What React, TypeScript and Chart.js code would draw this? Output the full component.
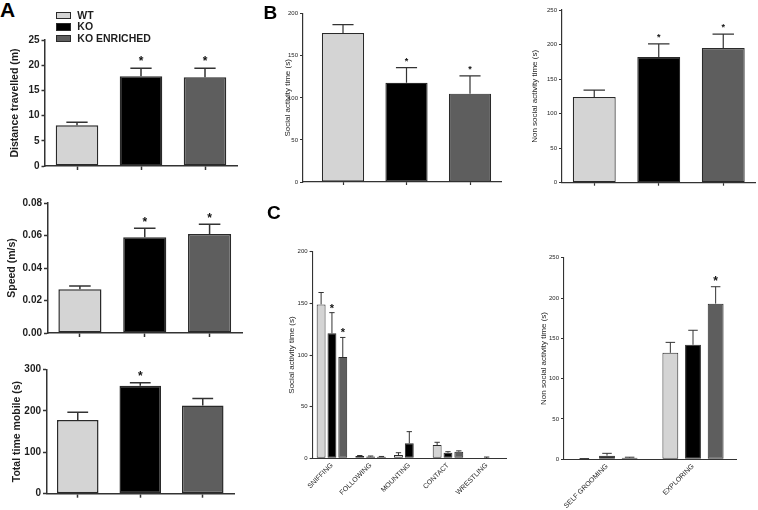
import React, { useEffect, useRef } from "react";
import { Chart, registerables } from "chart.js";

Chart.register(...registerables);

const FONT = "'Liberation Sans', Arial, Helvetica, sans-serif";
const AXIS = "#333333";
const BORDER = "#2a2a2a";
const TEXT = "#1e1e1e";

// ---------- data ----------
const groups = ["WT", "KO", "KO ENRICHED"];
const groupColors = ["#d4d4d4", "#000000", "#5e5e5e"];

const distanceMean = [8.1, 17.8, 17.6];
const distanceSem = [0.6, 1.6, 1.8];
const distanceSig = [false, true, true];
const distanceTicks = [0, 5, 10, 15, 20, 25];
const distanceTickLabels = ["0", "5", "10", "15", "20", "25"];

const speedMean = [0.027, 0.059, 0.061];
const speedSem = [0.002, 0.0055, 0.006];
const speedSig = [false, true, true];
const speedTicks = [0, 0.02, 0.04, 0.06, 0.08];
const speedTickLabels = ["0.00", "0.02", "0.04", "0.06", "0.08"];

const mobileMean = [178, 261, 213];
const mobileSem = [19, 7, 17];
const mobileSig = [false, true, false];
const mobileTicks = [0, 100, 200, 300];
const mobileTickLabels = ["0", "100", "200", "300"];

const socialTimeMean = [177, 118, 105];
const socialTimeSem = [10, 18, 21];
const socialTimeSig = [false, true, true];
const socialTimeTicks = [0, 50, 100, 150, 200];
const socialTimeTickLabels = ["0", "50", "100", "150", "200"];

const nonSocialTimeMean = [124, 182, 195];
const nonSocialTimeSem = [10, 19, 20];
const nonSocialTimeSig = [false, true, true];
const nonSocialTimeTicks = [0, 50, 100, 150, 200, 250];
const nonSocialTimeTickLabels = ["0", "50", "100", "150", "200", "250"];

const socialBehaviours = ["SNIFFING", "FOLLOWING", "MOUNTING", "CONTACT", "WRESTLING"];
const socialWT = [149, 2.2, 3.2, 12.9, 0];
const socialWTSem = [11.5, 0.5, 2.2, 2.6, 0];
const socialKO = [121, 1.7, 14.5, 5.4, 0];
const socialKOSem = [20, 0.5, 11.3, 1.0, 1.2];
const socialKOE = [98, 1.4, 0, 6.4, 0];
const socialKOESem = [19, 0.4, 0, 0.8, 0];
const socialWTSig = [false, false, false, false, false];
const socialKOSig = [true, false, false, false, false];
const socialKOESig = [true, false, false, false, false];

const nonSocialBehaviours = ["SELF GROOMING", "EXPLORING"];
const nonSocialWT = [0.6, 132];
const nonSocialWTSem = [0.3, 13];
const nonSocialKO = [4.5, 142];
const nonSocialKOSem = [2.9, 18];
const nonSocialKOE = [1.8, 193];
const nonSocialKOESem = [0.8, 21];
const nonSocialWTSig = [false, false];
const nonSocialKOSig = [false, false];
const nonSocialKOESig = [false, true];

// ---------- plugin: error bars + asterisks ----------
const errorBarPlugin = {
  id: "errorBars",
  afterDatasetsDraw(chart: any, _args: any, opts: any) {
    const { ctx } = chart;
    const yScale = chart.scales.y;
    chart.data.datasets.forEach((ds: any, di: number) => {
      const meta = chart.getDatasetMeta(di);
      meta.data.forEach((bar: any, i: number) => {
        const { x, y, width } = bar.getProps(["x", "y", "width"], true);
        const v = meta._parsed[i].y;
        const e = ds.errors ? ds.errors[i] : 0;
        const top = yScale.getPixelForValue(v + e);
        ctx.save();
        ctx.strokeStyle = opts.color || AXIS;
        ctx.lineWidth = opts.lineWidth || 1.2;
        if (e > 0) {
          ctx.beginPath();
          ctx.moveTo(x, y);
          ctx.lineTo(x, top);
          ctx.moveTo(x - width * opts.cap, top);
          ctx.lineTo(x + width * opts.cap, top);
          ctx.stroke();
        }
        if (ds.sig && ds.sig[i]) {
          const fs = opts.starSize;
          ctx.fillStyle = "#111";
          ctx.font = `bold ${fs}px ${FONT}`;
          ctx.textAlign = "center";
          ctx.textBaseline = "alphabetic";
          const cy = top - opts.starGap;
          ctx.fillText("*", x, cy + fs * 0.58);
        }
        ctx.restore();
      });
    });
  },
};

// ---------- config builders ----------
function yAxis(p: any) {
  return {
    min: 0,
    max: p.yMax,
    afterBuildTicks: (s: any) => {
      s.ticks = p.yTicks.map((v: number) => ({ value: v }));
    },
    ticks: {
      callback: (_v: any, i: number) => p.yLabels[i],
      font: { family: FONT, size: p.tickSize, weight: p.tickWeight },
      color: TEXT,
      padding: 2,
    },
    grid: {
      drawOnChartArea: false,
      drawTicks: true,
      tickLength: p.yTick,
      tickColor: AXIS,
      tickWidth: p.axisWidth,
    },
    border: { color: AXIS, width: p.axisWidth },
    title: {
      display: true,
      text: p.title,
      font: { family: FONT, size: p.titleSize, weight: p.titleWeight, lineHeight: 1 },
      color: TEXT,
      padding: 0,
    },
    afterFit: (s: any) => {
      s.width = p.yw;
    },
  };
}

function simpleBarConfig(p: any) {
  return {
    type: "bar",
    data: {
      datasets: [
        {
          data: p.mean.map((v: number, i: number) => ({ x: i, y: v })),
          backgroundColor: groupColors,
          borderColor: BORDER,
          borderWidth: p.barBorder,
          borderSkipped: false,
          categoryPercentage: 1,
          barPercentage: 0.665,
          errors: p.sem,
          sig: p.sig,
        },
      ],
    },
    options: {
      responsive: false,
      animation: false,
      devicePixelRatio: 1,
      layout: { padding: { left: p.padL, top: p.padT, right: p.padR, bottom: 0 } },
      plugins: {
        legend: { display: false },
        tooltip: { enabled: false },
        errorBars: {
          lineWidth: p.barBorder,
          cap: 0.25,
          starSize: p.starSize,
          starGap: p.starGap,
        },
      },
      scales: {
        x: {
          type: "linear",
          offset: false,
          min: p.xMin,
          max: p.xMax,
          bounds: "data",
          afterBuildTicks: (s: any) => {
            s.ticks = groups.map((_g, i) => ({ value: i }));
          },
          ticks: { callback: () => "", padding: 0 },
          grid: {
            offset: false,
            drawOnChartArea: false,
            drawTicks: true,
            tickLength: p.xTick,
            tickColor: AXIS,
            tickWidth: p.axisWidth,
          },
          border: { color: AXIS, width: p.axisWidth },
          afterFit: (s: any) => {
            s.height = p.xh;
          },
        },
        y: yAxis(p),
      },
    },
    plugins: [errorBarPlugin],
  };
}

function groupedBarConfig(p: any) {
  const series = [
    { data: p.wt, errors: p.wtSem, sig: p.wtSig },
    { data: p.ko, errors: p.koSem, sig: p.koSig },
    { data: p.koe, errors: p.koeSem, sig: p.koeSig },
  ];
  return {
    type: "bar",
    data: {
      labels: p.labels,
      datasets: series.map((s, i) => ({
        label: groups[i],
        data: s.data,
        errors: s.errors,
        sig: s.sig,
        backgroundColor: groupColors[i],
        borderColor: BORDER,
        borderWidth: p.barBorder,
        borderSkipped: false,
        categoryPercentage: p.catPct,
        barPercentage: p.barPct,
      })),
    },
    options: {
      responsive: false,
      animation: false,
      devicePixelRatio: 1,
      layout: { padding: { left: p.padL, top: p.padT, right: p.padR, bottom: 0 } },
      plugins: {
        legend: { display: false },
        tooltip: { enabled: false },
        errorBars: {
          lineWidth: p.barBorder,
          cap: 0.3,
          starSize: p.starSize,
          starGap: p.starGap,
        },
      },
      scales: {
        x: {
          type: "category",
          ticks: {
            minRotation: 45,
            maxRotation: 45,
            autoSkip: false,
            padding: 3,
            font: { family: FONT, size: 7 },
            color: TEXT,
          },
          grid: { display: false, drawTicks: false },
          border: { color: AXIS, width: p.axisWidth },
          afterFit: (s: any) => {
            s.height = p.xh;
          },
        },
        y: yAxis(p),
      },
    },
    plugins: [errorBarPlugin],
  };
}

// ---------- panels ----------
const panelA1 = {
  box: { left: 0, top: 28, width: 245, height: 150 },
  config: simpleBarConfig({
    mean: distanceMean, sem: distanceSem, sig: distanceSig,
    yMax: 25, yTicks: distanceTicks, yLabels: distanceTickLabels,
    title: "Distance travelled (m)", titleSize: 10.5, titleWeight: "bold",
    tickSize: 10, tickWeight: "bold", yTick: 3.5, xTick: 4, axisWidth: 1.5, barBorder: 1.5,
    padL: 9.75, padT: 12, padR: 8, yw: 35.25, xh: 12,
    xMin: -0.5, xMax: 2.5, starSize: 12, starGap: 10.5,
  }),
};

const panelA2 = {
  box: { left: 0, top: 185, width: 250, height: 160 },
  config: simpleBarConfig({
    mean: speedMean, sem: speedSem, sig: speedSig,
    yMax: 0.08, yTicks: speedTicks, yLabels: speedTickLabels,
    title: "Speed (m/s)", titleSize: 10.5, titleWeight: "bold",
    tickSize: 10, tickWeight: "bold", yTick: 3.5, xTick: 4, axisWidth: 1.5, barBorder: 1.5,
    padL: 6.75, padT: 18, padR: 8, yw: 40.75, xh: 12,
    xMin: -0.5, xMax: 2.5, starSize: 12, starGap: 9.5,
  }),
};

const panelA3 = {
  box: { left: 0, top: 350, width: 245, height: 160 },
  config: simpleBarConfig({
    mean: mobileMean, sem: mobileSem, sig: mobileSig,
    yMax: 300, yTicks: mobileTicks, yLabels: mobileTickLabels,
    title: "Total time mobile (s)", titleSize: 10.5, titleWeight: "bold",
    tickSize: 10, tickWeight: "bold", yTick: 3.5, xTick: 4, axisWidth: 1.5, barBorder: 1.5,
    padL: 11.75, padT: 19.5, padR: 11, yw: 34.75, xh: 16.3,
    xMin: -0.5, xMax: 2.5, starSize: 12, starGap: 10,
  }),
};

const panelB1 = {
  box: { left: 250, top: 0, width: 255, height: 195 },
  config: simpleBarConfig({
    mean: socialTimeMean, sem: socialTimeSem, sig: socialTimeSig,
    yMax: 200, yTicks: socialTimeTicks, yLabels: socialTimeTickLabels,
    title: "Social activity time (s)", titleSize: 8, titleWeight: "normal",
    tickSize: 6, tickWeight: "normal", yTick: 3, xTick: 3, axisWidth: 1.2, barBorder: 1.2,
    padL: 34, padT: 13.7, padR: 3.25, yw: 19, xh: 13,
    xMin: -0.63, xMax: 2.5, starSize: 9, starGap: 9,
  }),
};

const panelB2 = {
  box: { left: 510, top: 0, width: 248, height: 195 },
  config: simpleBarConfig({
    mean: nonSocialTimeMean, sem: nonSocialTimeSem, sig: nonSocialTimeSig,
    yMax: 250, yTicks: nonSocialTimeTicks, yLabels: nonSocialTimeTickLabels,
    title: "Non social activity time (s)", titleSize: 8, titleWeight: "normal",
    tickSize: 6, tickWeight: "normal", yTick: 3, xTick: 3, axisWidth: 1.2, barBorder: 1.2,
    padL: 21, padT: 10, padR: 2.5, yw: 31, xh: 12.3,
    xMin: -0.5, xMax: 2.5, starSize: 9, starGap: 9,
  }),
};

const panelC1 = {
  box: { left: 250, top: 230, width: 258, height: 280 },
  config: groupedBarConfig({
    labels: socialBehaviours,
    wt: socialWT, wtSem: socialWTSem, wtSig: socialWTSig,
    ko: socialKO, koSem: socialKOSem, koSig: socialKOSig,
    koe: socialKOE, koeSem: socialKOESem, koeSig: socialKOESig,
    yMax: 200, yTicks: socialTimeTicks, yLabels: socialTimeTickLabels,
    title: "Social activity time (s)", titleSize: 8, titleWeight: "normal",
    tickSize: 6, tickWeight: "normal", yTick: 3, axisWidth: 1.1, barBorder: 1,
    padL: 38, padT: 21.7, padR: 2, yw: 24.6, xh: 51.7,
    catPct: 0.84, barPct: 0.82, starSize: 11, starGap: 7.5,
  }),
};

const panelC2 = {
  box: { left: 510, top: 230, width: 248, height: 280 },
  config: groupedBarConfig({
    labels: nonSocialBehaviours,
    wt: nonSocialWT, wtSem: nonSocialWTSem, wtSig: nonSocialWTSig,
    ko: nonSocialKO, koSem: nonSocialKOSem, koSig: nonSocialKOSig,
    koe: nonSocialKOE, koeSem: nonSocialKOESem, koeSig: nonSocialKOESig,
    yMax: 250, yTicks: nonSocialTimeTicks, yLabels: nonSocialTimeTickLabels,
    title: "Non social activity time (s)", titleSize: 8, titleWeight: "normal",
    tickSize: 6, tickWeight: "normal", yTick: 3, axisWidth: 1.1, barBorder: 1,
    padL: 30, padT: 27.7, padR: 22, yw: 24, xh: 50.7,
    catPct: 0.79, barPct: 0.7, starSize: 12, starGap: 8.5,
  }),
};

const panels = [panelA1, panelA2, panelA3, panelB1, panelB2, panelC1, panelC2];

function ChartCanvas({ box, config }: { box: any; config: any }) {
  const ref = useRef<HTMLCanvasElement | null>(null);
  useEffect(() => {
    if (!ref.current) return;
    const chart = new Chart(ref.current, config);
    return () => chart.destroy();
  }, [config]);
  return (
    <canvas
      ref={ref}
      width={box.width}
      height={box.height}
      style={{ position: "absolute", left: box.left, top: box.top, width: box.width, height: box.height }}
    />
  );
}

const letterStyle = (left: number, top: number, size: number): React.CSSProperties => ({
  position: "absolute",
  left,
  top,
  fontFamily: FONT,
  fontWeight: "bold",
  fontSize: size,
  lineHeight: 1,
  color: "#000",
});

export default function App() {
  return (
    <div
      style={{
        position: "absolute",
        left: 0,
        top: 0,
        width: 758,
        height: 510,
        background: "#fff",
        overflow: "hidden",
        fontFamily: FONT,
      }}
    >
      {panels.map((p, i) => (
        <ChartCanvas key={i} box={p.box} config={p.config} />
      ))}
      <div style={letterStyle(0, -0.7, 21)}>A</div>
      <div style={letterStyle(263.6, 2.5, 19)}>B</div>
      <div style={letterStyle(267, 202.5, 19)}>C</div>
      {groups.map((g, i) => (
        <div key={g}>
          <div
            style={{
              position: "absolute",
              left: 56,
              top: 11.5 + i * 11.5,
              width: 13,
              height: 5.5,
              background: groupColors[i],
              border: `1.2px solid ${BORDER}`,
            }}
          />
          <div
            style={{
              position: "absolute",
              left: 77.3,
              top: 9.9 + i * 11.5,
              fontFamily: FONT,
              fontWeight: "bold",
              fontSize: 10.5,
              lineHeight: 1,
              color: TEXT,
              whiteSpace: "nowrap",
            }}
          >
            {g}
          </div>
        </div>
      ))}
    </div>
  );
}
